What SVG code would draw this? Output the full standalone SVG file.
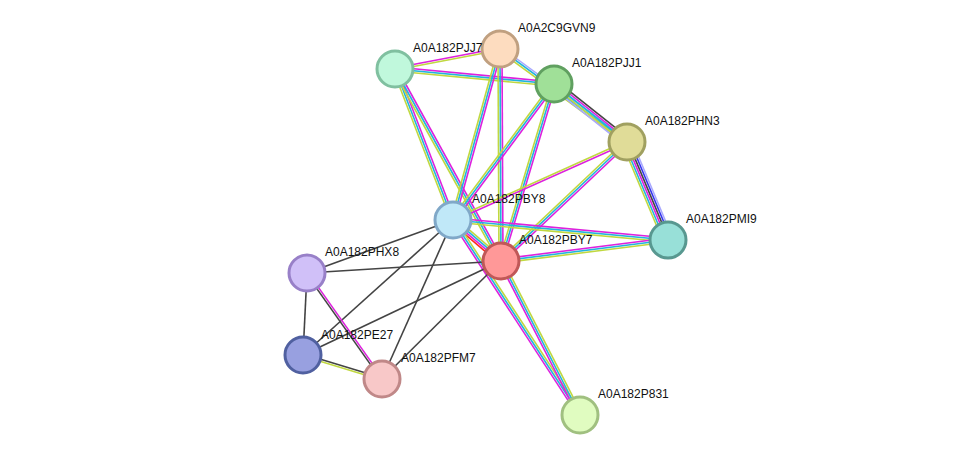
<svg xmlns="http://www.w3.org/2000/svg" width="975" height="461" viewBox="0 0 975 461">
<style>
line{stroke-width:1.6;fill:none}
.m{stroke:#dd22dd}.c{stroke:#22b4dd}.y{stroke:#c0d840}.k{stroke:#444}.l{stroke:#a8a8ff}.b{stroke:#3333ee}.r{stroke:#ff2a1a}
circle{stroke-width:3}
text{font-family:"Liberation Sans",Arial,sans-serif;font-size:12px;fill:#111}
</style>
<rect width="975" height="461" fill="#fff"/>
<g id="connectors">
<line class="m" x1="394.8" y1="68" x2="499.8" y2="48"/><line class="y" x1="395.2" y1="70" x2="500.2" y2="50"/>
<line class="m" x1="395.2" y1="67" x2="554.2" y2="82"/><line class="c" x1="395" y1="69" x2="554" y2="84"/><line class="y" x1="394.8" y1="71" x2="553.8" y2="86"/>
<line class="m" x1="396.9" y1="68.3" x2="454.9" y2="219.3"/><line class="c" x1="395" y1="69" x2="453" y2="220"/><line class="y" x1="393.1" y1="69.7" x2="451.1" y2="220.7"/>
<line class="m" x1="396.8" y1="68" x2="502.8" y2="260"/><line class="c" x1="395" y1="69" x2="501" y2="261"/><line class="y" x1="393.2" y1="70" x2="499.2" y2="262"/>
<line class="l" x1="501.2" y1="47.4" x2="628.2" y2="140.4"/><line class="c" x1="500" y1="49" x2="627" y2="142"/><line class="y" x1="498.8" y1="50.6" x2="625.8" y2="143.6"/>
<line class="m" x1="501.9" y1="49.5" x2="454.9" y2="220.5"/><line class="c" x1="500" y1="49" x2="453" y2="220"/><line class="y" x1="498.1" y1="48.5" x2="451.1" y2="219.5"/>
<line class="m" x1="502" y1="49" x2="503" y2="261"/><line class="c" x1="500" y1="49" x2="501" y2="261"/><line class="y" x1="498" y1="49" x2="499" y2="261"/>
<line class="k" x1="556.5" y1="80.9" x2="629.5" y2="138.9"/><line class="m" x1="555.2" y1="82.4" x2="628.2" y2="140.4"/><line class="c" x1="554" y1="84" x2="627" y2="142"/><line class="y" x1="552.8" y1="85.6" x2="625.8" y2="143.6"/><line class="l" x1="551.5" y1="87.1" x2="624.5" y2="145.1"/>
<line class="m" x1="555.6" y1="85.2" x2="454.6" y2="221.2"/><line class="c" x1="554" y1="84" x2="453" y2="220"/><line class="y" x1="552.4" y1="82.8" x2="451.4" y2="218.8"/>
<line class="m" x1="555.9" y1="84.6" x2="502.9" y2="261.6"/><line class="c" x1="554" y1="84" x2="501" y2="261"/><line class="y" x1="552.1" y1="83.4" x2="499.1" y2="260.4"/>
<line class="l" x1="631.6" y1="140" x2="672.6" y2="238"/><line class="b" x1="629.8" y1="140.8" x2="670.8" y2="238.8"/><line class="k" x1="627.9" y1="141.6" x2="668.9" y2="239.6"/><line class="m" x1="626.1" y1="142.4" x2="667.1" y2="240.4"/><line class="c" x1="624.2" y1="143.2" x2="665.2" y2="241.2"/><line class="y" x1="622.4" y1="144" x2="663.4" y2="242"/>
<line class="m" x1="627.4" y1="142.9" x2="453.4" y2="220.9"/><line class="y" x1="626.6" y1="141.1" x2="452.6" y2="219.1"/>
<line class="m" x1="628.4" y1="143.5" x2="502.4" y2="262.5"/><line class="c" x1="627" y1="142" x2="501" y2="261"/><line class="y" x1="625.6" y1="140.5" x2="499.6" y2="259.5"/>
<line class="m" x1="453.2" y1="218" x2="668.2" y2="238"/><line class="c" x1="453" y1="220" x2="668" y2="240"/><line class="y" x1="452.8" y1="222" x2="667.8" y2="242"/>
<line class="m" x1="500.8" y1="259" x2="667.8" y2="238"/><line class="c" x1="501" y1="261" x2="668" y2="240"/><line class="y" x1="501.2" y1="263" x2="668.2" y2="242"/>
<line class="y" x1="455" y1="217.7" x2="503" y2="258.7"/><line class="c" x1="453.7" y1="219.2" x2="501.7" y2="260.2"/><line class="m" x1="452.4" y1="220.8" x2="500.4" y2="261.8"/><line class="r" x1="451.1" y1="222.3" x2="499.1" y2="263.3"/>
<line class="y" x1="454.7" y1="218.9" x2="581.7" y2="413.9"/><line class="c" x1="453" y1="220" x2="580" y2="415"/><line class="m" x1="451.3" y1="221.1" x2="578.3" y2="416.1"/>
<line class="y" x1="502.8" y1="260.1" x2="581.8" y2="414.1"/><line class="c" x1="501" y1="261" x2="580" y2="415"/><line class="m" x1="499.2" y1="261.9" x2="578.2" y2="415.9"/>
<line class="k" x1="453" y1="220" x2="307" y2="273"/><line class="k" x1="453" y1="220" x2="303" y2="355"/><line class="k" x1="453" y1="220" x2="382" y2="379"/>
<line class="k" x1="501" y1="261" x2="307" y2="273"/><line class="k" x1="501" y1="261" x2="303" y2="355"/><line class="k" x1="501" y1="261" x2="382" y2="379"/>
<line class="k" x1="307" y1="273" x2="303" y2="355"/>
<line class="m" x1="307.8" y1="272.4" x2="382.8" y2="378.4"/><line class="k" x1="306.2" y1="273.6" x2="381.2" y2="379.6"/>
<line class="k" x1="303.3" y1="354" x2="382.3" y2="378"/><line class="y" x1="302.7" y1="356" x2="381.7" y2="380"/>
</g>
<g id="A0A2C9GVN9"><circle cx="500" cy="49" r="18" fill="#fddcbf" stroke="#c0a080"/><text x="518" y="32">A0A2C9GVN9</text></g>
<g id="A0A182PJJ7"><circle cx="395" cy="69" r="18" fill="#c0f8dc" stroke="#80c0a0"/><text x="413" y="52">A0A182PJJ7</text></g>
<g id="A0A182PJJ1"><circle cx="554" cy="84" r="18" fill="#a0e098" stroke="#60a060"/><text x="572" y="67">A0A182PJJ1</text></g>
<g id="A0A182PHN3"><circle cx="627" cy="142" r="18" fill="#e0dc98" stroke="#a0a060"/><text x="645" y="125">A0A182PHN3</text></g>
<g id="A0A182PBY8"><circle cx="453" cy="220" r="18" fill="#c0e8f8" stroke="#80a8c8"/><text x="472" y="203">A0A182PBY8</text></g>
<g id="A0A182PMI9"><circle cx="668" cy="240" r="18" fill="#98e0d8" stroke="#589890"/><text x="686" y="223">A0A182PMI9</text></g>
<g id="A0A182PBY7"><circle cx="501" cy="261" r="18" fill="#ff9898" stroke="#c05858"/><text x="519" y="244">A0A182PBY7</text></g>
<g id="A0A182PHX8"><circle cx="307" cy="273" r="18" fill="#d0c0f8" stroke="#9880c8"/><text x="325" y="256">A0A182PHX8</text></g>
<g id="A0A182PE27"><circle cx="303" cy="355" r="18" fill="#98a0e0" stroke="#5060a0"/><text x="321" y="339">A0A182PE27</text></g>
<g id="A0A182PFM7"><circle cx="382" cy="379" r="18" fill="#f8c8c8" stroke="#c08888"/><text x="401" y="362">A0A182PFM7</text></g>
<g id="A0A182P831"><circle cx="580" cy="415" r="18" fill="#e0fcc0" stroke="#a0c080"/><text x="598" y="398">A0A182P831</text></g>
</svg>
